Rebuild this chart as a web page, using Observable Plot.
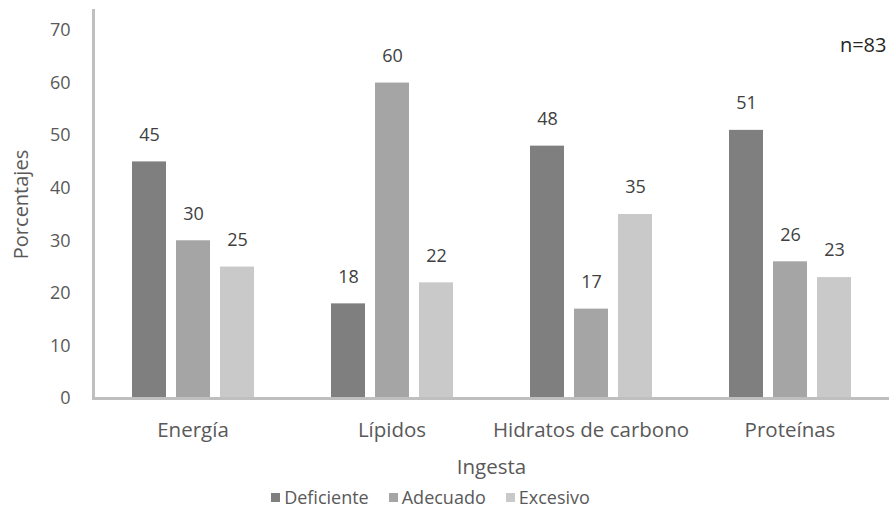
<!DOCTYPE html>
<html><head><meta charset="utf-8">
<script src="https://cdn.jsdelivr.net/npm/d3@7"></script>
<script src="https://cdn.jsdelivr.net/npm/@observablehq/plot@0.6"></script>
<style>
html,body{margin:0;padding:0;background:#fff;overflow:hidden;}
body{font-family:"Open Sans",sans-serif;width:889px;height:521px;}
#legend{display:flex;justify-content:center;align-items:center;gap:20px;color:#595959;font-size:18px;height:30px;padding-right:28px;}
#legend .item{display:flex;align-items:center;gap:4px;}
#legend .sw{display:inline-block;width:9px;height:9px;}
g[aria-label="y-axis label"] text{font-size:20px;}
</style></head><body><div id="chart"></div><div id="legend"></div>
<script>
const categories = ["Energía", "Lípidos", "Hidratos de carbono", "Proteínas"];
const series = ["Deficiente", "Adecuado", "Excesivo"];
const deficiente = [45, 18, 48, 51];
const adecuado = [30, 60, 17, 26];
const excesivo = [25, 22, 35, 23];
const colors = ["#7f7f7f", "#a5a5a5", "#c9c9c9"];
const yTicks = [0, 10, 20, 30, 40, 50, 60, 70];
const note = "n=83";

const values = [deficiente, adecuado, excesivo];
const data = categories.flatMap((c, i) => values.map((arr, j) => ({categoria: c, serie: series[j], valor: arr[i]})));

const plot = Plot.plot({
  width: 889, height: 482,
  marginLeft: 93, marginRight: 0, marginTop: 10, marginBottom: 84,
  style: {fontFamily: "'Open Sans', sans-serif", fontSize: "18px", color: "#595959", background: "#fff"},
  fx: {domain: categories, padding: 0},
  x: {domain: series, paddingInner: 0.23, paddingOuter: 0.875, axis: null},
  y: {domain: [0, 73.8]},
  color: {domain: series, range: colors},
  marks: [
    Plot.frame({anchor: "left", facetAnchor: "left", stroke: "#bfbfbf", strokeWidth: 3}),
    Plot.axisY({ticks: yTicks, tickSize: 0, tickPadding: 23, label: "Porcentajes", labelArrow: "none", labelAnchor: "center", labelOffset: 80, fill: "#595959", fontSize: 18}),
    Plot.axisFx({anchor: "bottom", tickSize: 0, tickPadding: 24, label: "Ingesta", labelArrow: "none", labelAnchor: "center", labelOffset: 75, fill: "#595959", fontSize: 20.5}),
    Plot.barY(data, {fx: "categoria", x: "serie", y: "valor", fill: "serie"}),
    Plot.ruleY([0], {stroke: "#bfbfbf", strokeWidth: 3}),
    Plot.text(data, {fx: "categoria", x: "serie", y: "valor", text: d => String(d.valor), dy: -27, fill: "#404040"}),
    Plot.text([{categoria: "Proteínas", t: note}], {fx: "categoria", text: "t", frameAnchor: "top-right", textAnchor: "end", dx: -3, dy: 27, fill: "#262626", fontSize: 20})
  ]
});
document.getElementById("chart").appendChild(plot);

const legend = document.getElementById("legend");
series.forEach((s, i) => {
  const item = document.createElement("span");
  item.className = "item";
  const sw = document.createElement("span");
  sw.className = "sw";
  sw.style.background = colors[i];
  item.appendChild(sw);
  item.appendChild(document.createTextNode(s));
  legend.appendChild(item);
});
</script>
</body></html>
